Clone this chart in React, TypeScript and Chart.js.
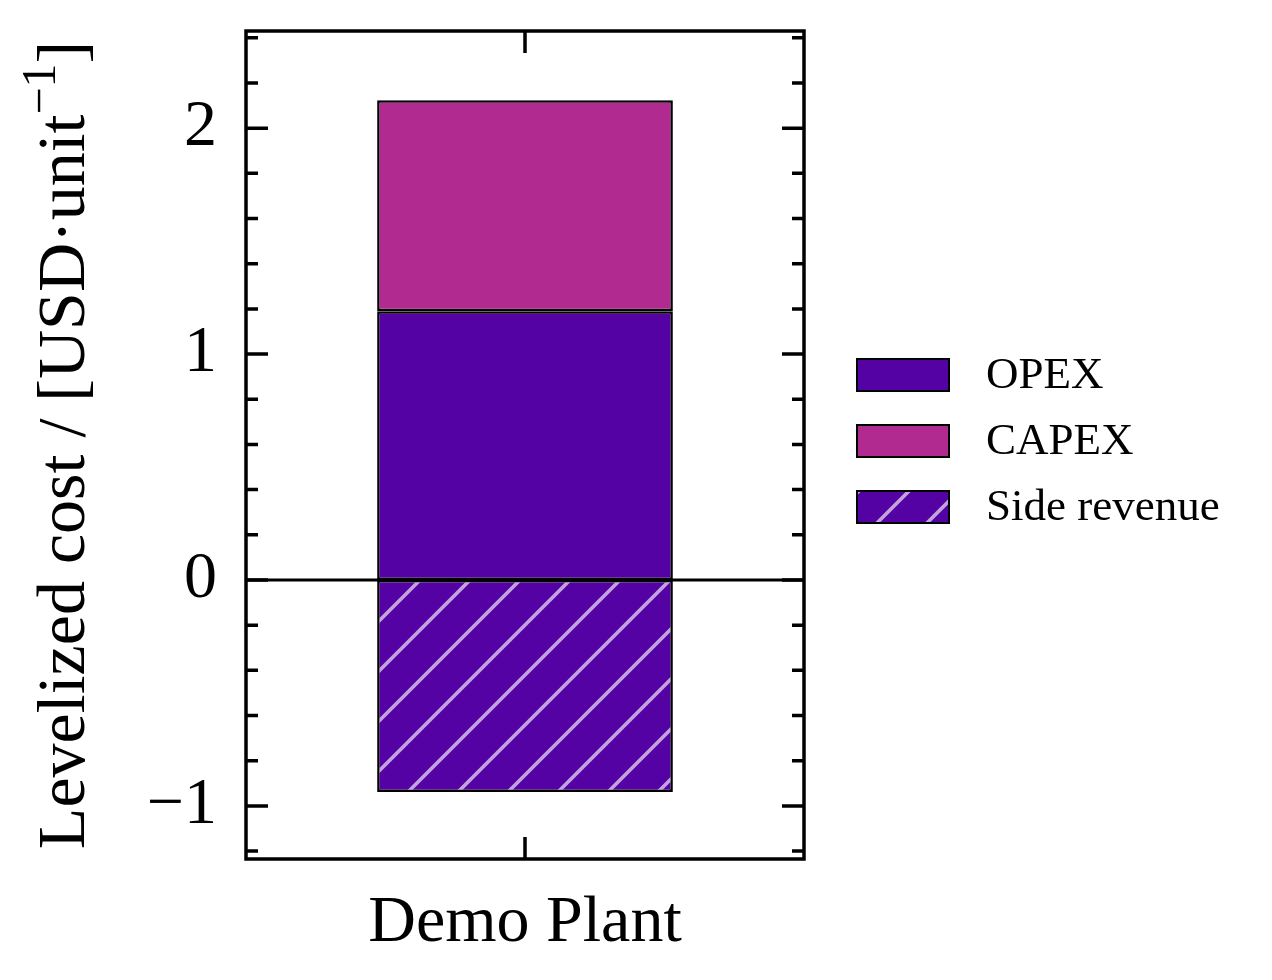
import { useEffect, useRef } from "react";
import { Chart, registerables } from "chart.js";

Chart.register(...registerables);

const CATEGORIES = ["Demo Plant"];
const OPEX = [1.19];
const CAPEX = [0.934];
const SIDE_REVENUE = [-0.938];
const Y_TICKS = [-1, 0, 1, 2];
const Y_MIN = -1.235;
const Y_MAX = 2.43;
const MINOR_STEP = 0.2;

const OPEX_COLOR = "#5402a3";
const CAPEX_COLOR = "#b12a90";
const HATCH_COLOR = "#c3a2e0";
const FONT = "'Liberation Serif', 'Times New Roman', serif";

function hatchPattern(ctx: CanvasRenderingContext2D) {
  const s = 50;
  const c = document.createElement("canvas");
  c.width = s;
  c.height = s;
  const p = c.getContext("2d")!;
  p.fillStyle = OPEX_COLOR;
  p.fillRect(0, 0, s, s);
  p.strokeStyle = HATCH_COLOR;
  p.lineWidth = 3.6;
  p.beginPath();
  p.moveTo(-3, s + 3);
  p.lineTo(s + 3, -3);
  p.moveTo(-3, 3);
  p.lineTo(3, -3);
  p.moveTo(s - 3, s + 3);
  p.lineTo(s + 3, s - 3);
  p.stroke();
  return ctx.createPattern(c, "repeat")!;
}

const framePlugin = {
  id: "frame",
  afterDatasetsDraw(chart: any) {
    const { ctx, chartArea: a, scales } = chart;
    const y = scales.y;
    const x = scales.x;
    ctx.save();
    ctx.strokeStyle = "#000";
    ctx.lineCap = "butt";

    // zero line
    const y0 = y.getPixelForValue(0);
    ctx.lineWidth = 3;
    ctx.beginPath();
    ctx.moveTo(a.left, y0);
    ctx.lineTo(a.right, y0);
    ctx.stroke();

    // inward ticks, left and right
    ctx.lineWidth = 3.5;
    ctx.beginPath();
    for (let k = Math.ceil(Y_MIN / MINOR_STEP); k <= Math.floor(Y_MAX / MINOR_STEP); k++) {
      const v = k * MINOR_STEP;
      const major = Math.abs(v - Math.round(v)) < 1e-6;
      const len = major ? 22 : 12;
      const py = y.getPixelForValue(v);
      ctx.moveTo(a.left, py);
      ctx.lineTo(a.left + len, py);
      ctx.moveTo(a.right, py);
      ctx.lineTo(a.right - len, py);
    }
    CATEGORIES.forEach((_, i) => {
      const px = x.getPixelForValue(i);
      ctx.moveTo(px, a.bottom);
      ctx.lineTo(px, a.bottom - 22);
      ctx.moveTo(px, a.top);
      ctx.lineTo(px, a.top + 22);
    });
    ctx.stroke();

    // frame
    ctx.lineWidth = 3.5;
    ctx.strokeRect(a.left, a.top, a.right - a.left, a.bottom - a.top);
    ctx.restore();
  },
  afterDraw(chart: any) {
    const { ctx, chartArea: a } = chart;
    ctx.save();

    // y-axis title with superscript
    const parts = [
      { t: "Levelized cost / [USD\u00b7unit", size: 68, rise: 0 },
      { t: "\u22121", size: 48, rise: 29 },
      { t: "]", size: 68, rise: 0 },
    ];
    let total = 0;
    parts.forEach((p) => {
      ctx.font = `${p.size}px ${FONT}`;
      total += ctx.measureText(p.t).width;
    });
    ctx.translate(84, (a.top + a.bottom) / 2);
    ctx.rotate(-Math.PI / 2);
    ctx.fillStyle = "#000";
    ctx.textBaseline = "alphabetic";
    ctx.textAlign = "left";
    let cx = -total / 2;
    parts.forEach((p) => {
      ctx.font = `${p.size}px ${FONT}`;
      ctx.fillText(p.t, cx, -p.rise);
      cx += ctx.measureText(p.t).width;
    });
    ctx.restore();

    // legend
    ctx.save();
    ctx.font = `45px ${FONT}`;
    ctx.textBaseline = "middle";
    ctx.textAlign = "left";
    chart.data.datasets.forEach((ds: any, i: number) => {
      const top = 359 + i * 66;
      ctx.fillStyle = ds.backgroundColor;
      ctx.fillRect(857, top, 92, 32);
      ctx.strokeStyle = "#000";
      ctx.lineWidth = 2;
      ctx.strokeRect(857, top, 92, 32);
      ctx.fillStyle = "#000";
      ctx.fillText(ds.label, 986, top + 17);
    });
    ctx.restore();
  },
};

export default function App() {
  const canvasRef = useRef<HTMLCanvasElement>(null);

  useEffect(() => {
    if (!canvasRef.current) return;
    const ctx = canvasRef.current.getContext("2d");
    if (!ctx) return;
    const hatch = hatchPattern(ctx);
    const barStyle = {
      borderColor: "#000",
      borderWidth: 2.5,
      borderSkipped: false as const,
      barPercentage: 0.53,
      categoryPercentage: 1,
    };
    const chart = new Chart(ctx, {
      type: "bar",
      data: {
        labels: CATEGORIES,
        datasets: [
          { label: "OPEX", data: OPEX, backgroundColor: OPEX_COLOR, ...barStyle },
          { label: "CAPEX", data: CAPEX, backgroundColor: CAPEX_COLOR, ...barStyle },
          { label: "Side revenue", data: SIDE_REVENUE, backgroundColor: hatch as any, ...barStyle },
        ],
      },
      options: {
        responsive: false,
        devicePixelRatio: 1,
        animation: false,
        layout: { padding: { left: 0, top: 31, right: 468, bottom: 0 } },
        plugins: {
          legend: { display: false },
          tooltip: { enabled: false },
        },
        scales: {
          x: {
            stacked: true,
            grid: { display: false, drawTicks: false },
            border: { display: false },
            ticks: {
              color: "#000",
              padding: 25,
              font: { family: FONT, size: 66 },
            },
            afterFit: (s: any) => {
              s.height = 121;
              s.paddingLeft = 0;
              s.paddingRight = 0;
            },
          },
          y: {
            stacked: true,
            min: Y_MIN,
            max: Y_MAX,
            grid: { display: false, drawTicks: false },
            border: { display: false },
            afterBuildTicks: (s: any) => {
              s.ticks = Y_TICKS.map((v) => ({ value: v }));
            },
            ticks: {
              color: "#000",
              padding: 29,
              font: { family: FONT, size: 66 },
              callback: (v: any) => (Number(v) < 0 ? "\u2212" + Math.abs(Number(v)) : String(v)),
            },
            afterFit: (s: any) => {
              s.width = 246;
              s.paddingTop = 0;
              s.paddingBottom = 0;
            },
          },
        },
      },
      plugins: [framePlugin],
    });
    return () => chart.destroy();
  }, []);

  return (
    <div style={{ position: "absolute", left: 0, top: 0, width: 1272, height: 980, background: "#fff" }}>
      <canvas ref={canvasRef} width={1272} height={980} />
    </div>
  );
}
